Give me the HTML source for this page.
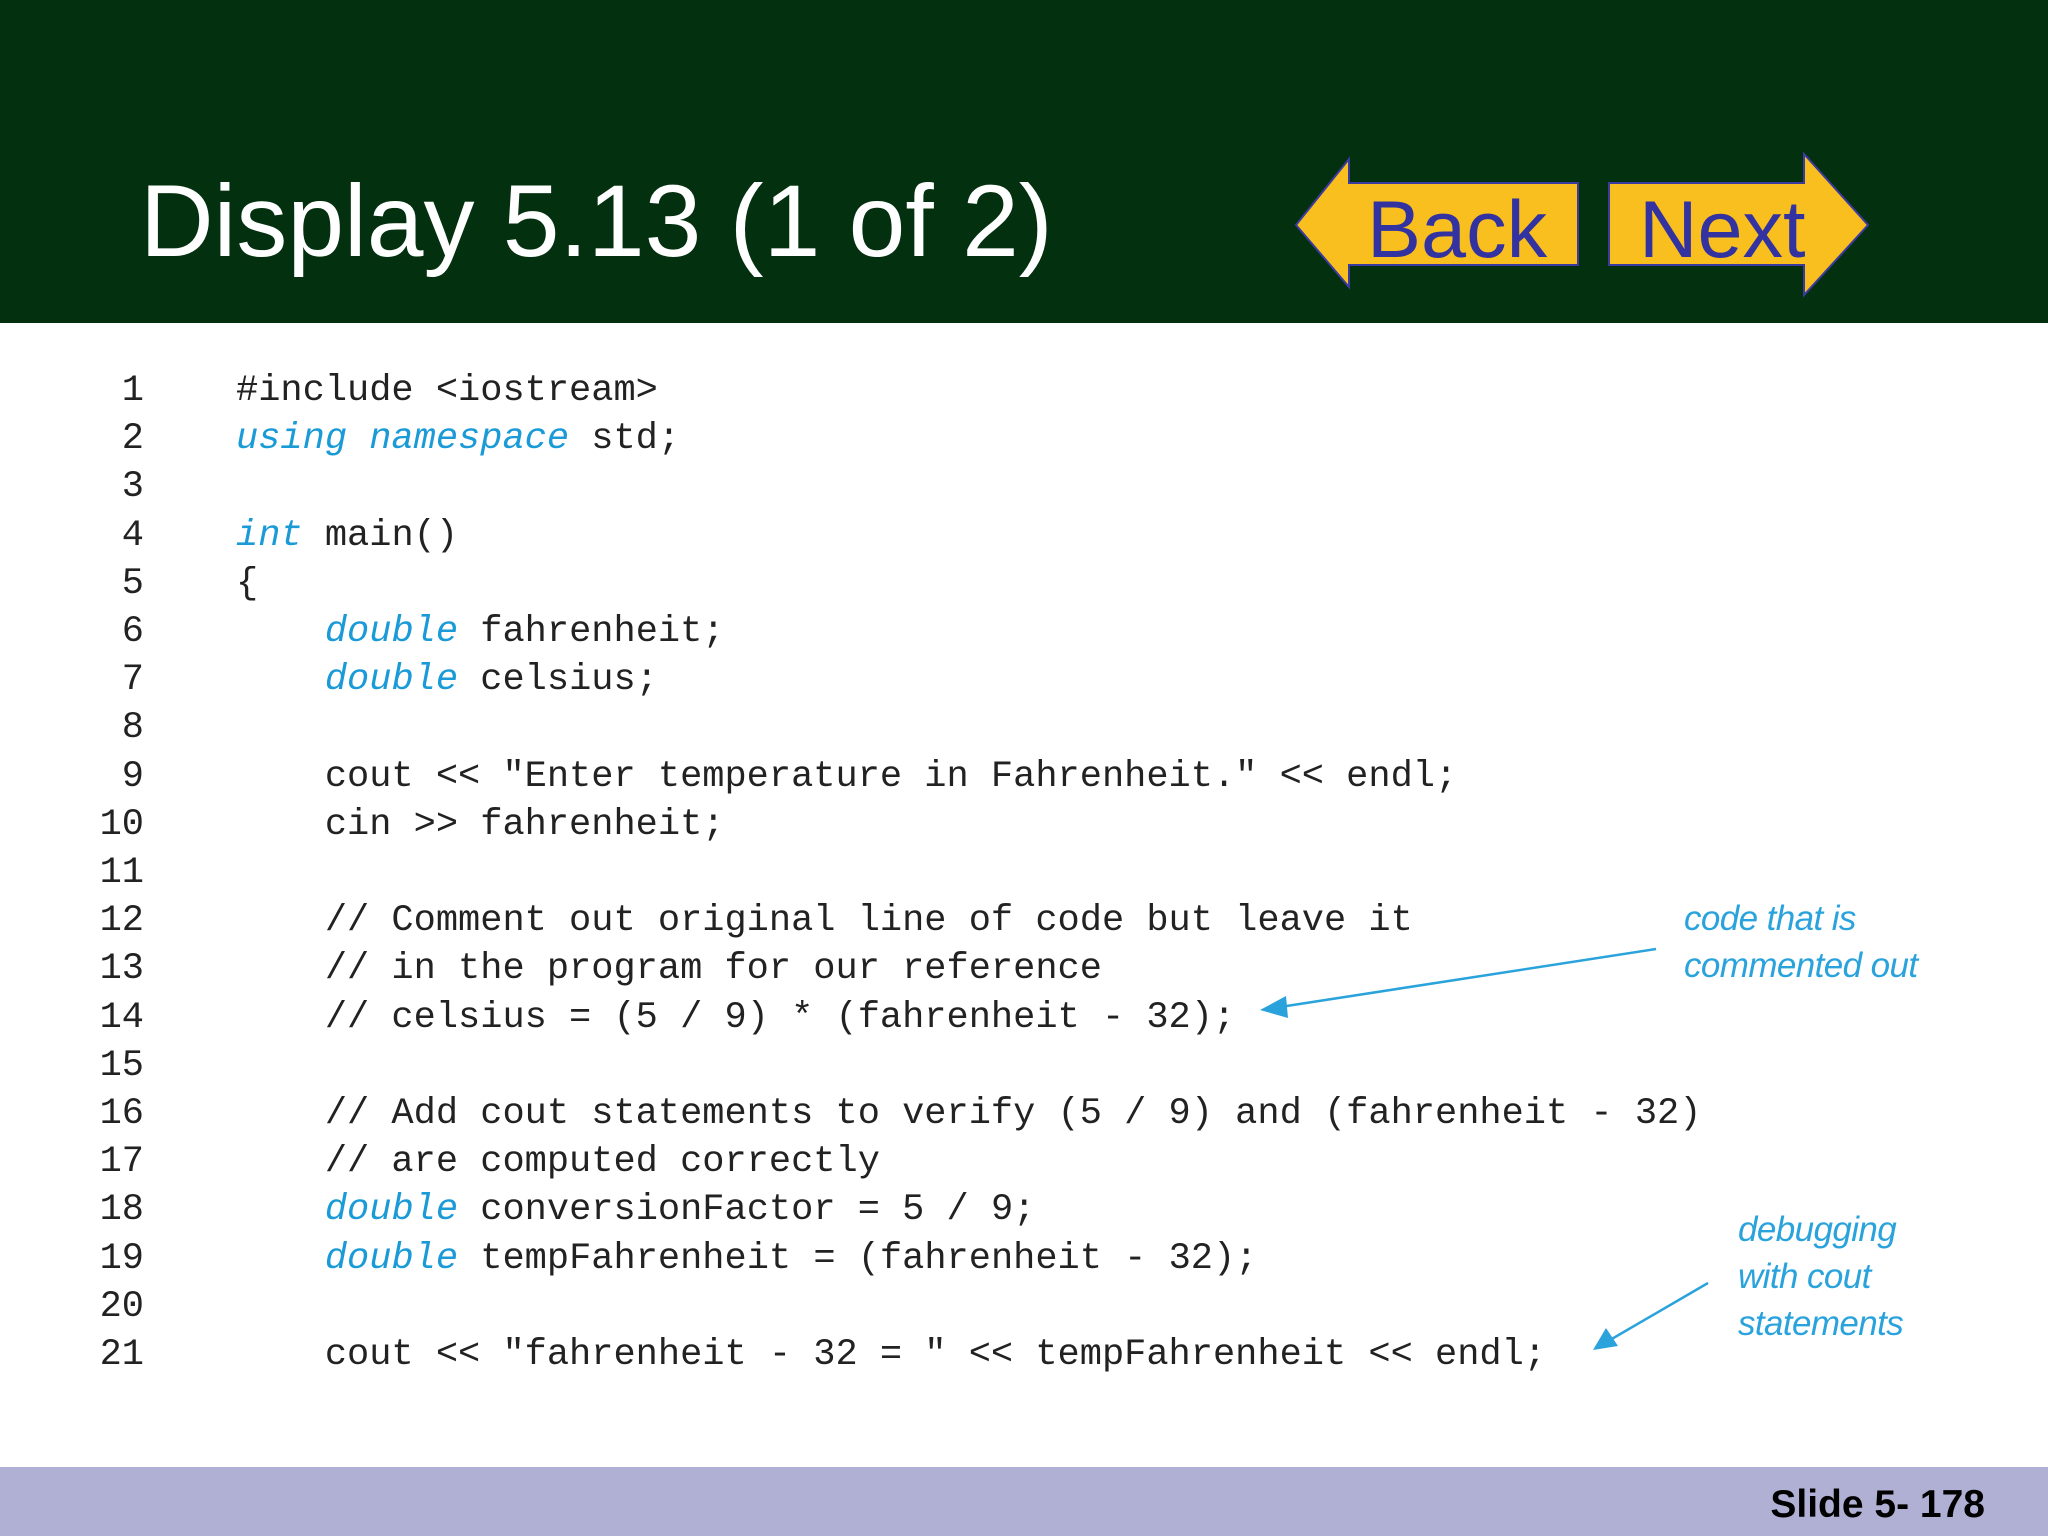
<!DOCTYPE html>
<html><head><meta charset="utf-8"><style>
html,body{margin:0;padding:0;}
body{width:2048px;height:1536px;position:relative;background:#fff;overflow:hidden;font-family:"Liberation Sans",sans-serif;}
#hdr{position:absolute;left:0;top:0;width:2048px;height:323px;background:#03300f;}
#title{position:absolute;left:140px;top:170px;font-size:102px;color:#fff;line-height:1;white-space:nowrap;}
#ftr{position:absolute;left:0;top:1467px;width:2048px;height:69px;background:#b0b0d4;}
#slide{position:absolute;right:63px;top:1485px;font-size:39px;font-weight:bold;color:#000;line-height:1;}
pre{position:absolute;margin:0;font-family:"Liberation Mono","DejaVu Sans Mono",monospace;font-size:37px;line-height:48.2px;color:#222;}
#nums{left:60px;top:367px;width:84px;text-align:right;}
#code{left:236px;top:367px;}
.k{color:#1a9ad6;font-style:italic;}
.ann{position:absolute;font-family:"Liberation Sans",sans-serif;font-style:italic;font-size:35px;color:#2aa3dc;line-height:47px;letter-spacing:-0.6px;}
</style></head><body>
<div id="hdr"></div>
<div id="title">Display 5.13 (1 of 2)</div>
<svg style="position:absolute;left:0;top:0" width="2048" height="340">
<polygon points="1296,225 1349,159 1349,183 1578,183 1578,265 1349,265 1349,287" fill="#f8bf1f" stroke="#3a3aa0" stroke-width="2"/>
<polygon points="1609,183 1804,183 1804,154 1868,225 1804,295 1804,265 1609,265" fill="#f8bf1f" stroke="#3a3aa0" stroke-width="2"/>
<text x="1367" y="257" font-family="Liberation Sans" font-size="81" fill="#3232a0">Back</text>
<text x="1639" y="257" font-family="Liberation Sans" font-size="81" fill="#3232a0">Next</text>
</svg>
<pre id="nums">1
2
3
4
5
6
7
8
9
10
11
12
13
14
15
16
17
18
19
20
21</pre>
<pre id="code">#include &lt;iostream&gt;
<span class="k">using namespace</span> std;

<span class="k">int</span> main()
{
    <span class="k">double</span> fahrenheit;
    <span class="k">double</span> celsius;

    cout &lt;&lt; "Enter temperature in Fahrenheit." &lt;&lt; endl;
    cin &gt;&gt; fahrenheit;

    // Comment out original line of code but leave it
    // in the program for our reference
    // celsius = (5 / 9) * (fahrenheit - 32);

    // Add cout statements to verify (5 / 9) and (fahrenheit - 32)
    // are computed correctly
    <span class="k">double</span> conversionFactor = 5 / 9;
    <span class="k">double</span> tempFahrenheit = (fahrenheit - 32);

    cout &lt;&lt; "fahrenheit - 32 = " &lt;&lt; tempFahrenheit &lt;&lt; endl;</pre>
<div class="ann" style="left:1684px;top:895px;">code that is<br>commented out</div>
<div class="ann" style="left:1738px;top:1206px;">debugging<br>with cout<br>statements</div>
<svg style="position:absolute;left:0;top:0" width="2048" height="1536">
<line x1="1656" y1="949" x2="1280" y2="1007" stroke="#2aa3dc" stroke-width="2.5"/>
<polygon points="1260,1010 1286,996 1288,1018" fill="#2aa3dc"/>
<line x1="1708" y1="1283" x2="1610" y2="1340" stroke="#2aa3dc" stroke-width="2.5"/>
<polygon points="1593,1350 1606,1328 1618,1346" fill="#2aa3dc"/>
</svg>
<div id="ftr"></div>
<div id="slide">Slide 5- 178</div>
</body></html>
